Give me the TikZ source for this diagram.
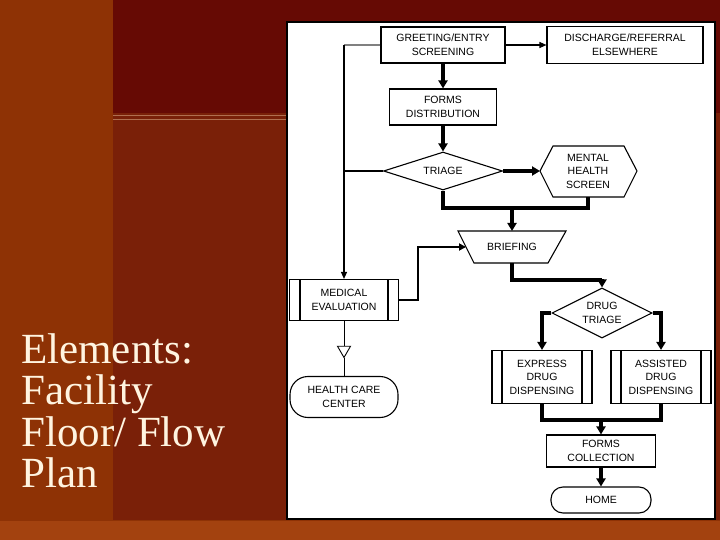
\documentclass[tikz,border=0pt]{standalone}
\usepackage{fontspec}
\setmainfont{Liberation Serif}
\newfontfamily\flowfont{Liberation Sans}
\usetikzlibrary{shapes.geometric,shapes.multipart,arrows.meta}
\definecolor{bgleft}{HTML}{8E3205}
\definecolor{bgmid}{HTML}{7A2008}
\definecolor{bgtop}{HTML}{660A04}
\definecolor{bgbot}{HTML}{A3420F}
\definecolor{cream}{HTML}{FFF4E0}
\begin{document}
\begin{tikzpicture}[x=1pt,y=-1pt,
  box/.style={draw,line width=1.1pt,fill=white,align=center,font=\flowfont\fontsize{10.5}{13.5}\selectfont,inner sep=1pt},
  thick arrow/.style={line width=3.6pt,-{Triangle[length=8pt,width=9pt]}},
  thickline/.style={line width=3.6pt},
  thin arrow/.style={line width=1.1pt,-{Triangle[length=7pt,width=6pt]}},
  midline/.style={line width=2.2pt}]
\useasboundingbox (0,0) rectangle (720,540);
\fill[bgleft] (0,0) rectangle (720,540);
\fill[bgmid] (113,0) rectangle (720,520);
\fill[bgtop] (113,0) rectangle (720,113);
\draw[bgleft!70!white,line width=1pt] (113,116) -- (287,116);
\draw[bgleft!70!white,line width=1pt] (113,120) -- (287,120);
\fill[bgbot] (0,521) rectangle (720,540);
% panel
\draw[fill=white,line width=1.5pt] (287,22) rectangle (715,519);
% left text
\node[anchor=north west,align=left,text=cream,font=\fontsize{43}{41.5}\selectfont,inner sep=0pt] (title) at (21,333) {Elements:\\Facility\\Floor/ Flow\\Plan};
% nodes
\node[box,minimum width=124pt,minimum height=36pt] (greet) at (443,45) {GREETING/ENTRY\\SCREENING};
\node[box,minimum width=156pt,minimum height=37pt] (disc) at (625,45) {DISCHARGE/REFERRAL\\ELSEWHERE};
\node[box,minimum width=107pt,minimum height=36pt] (forms) at (443,107) {FORMS\\DISTRIBUTION};
\node[box,diamond,aspect=3.1,minimum width=119pt,minimum height=38pt,inner sep=0pt] (triage) at (443,171) {TRIAGE};
\coordinate (mhL) at (540,171);
\draw[line width=1.1pt,fill=white] (540,171) -- (553,146) -- (624,146) -- (637,171) -- (624,197) -- (553,197) -- cycle;
\node[box,draw=none,fill=none] (mh) at (588,171) {MENTAL\\HEALTH\\SCREEN};
\draw[line width=1.1pt,fill=white] (458,231) -- (566,231) -- (548,263) -- (474,263) -- cycle;
\node[box,draw=none,fill=none] (brief) at (512,247) {BRIEFING};
\coordinate (briefL) at (466,247);
\coordinate (briefT) at (512,231);
\coordinate (briefB) at (512,263);
\node[box,minimum width=109pt,minimum height=41pt] (med) at (344,300) {MEDICAL\\EVALUATION};
\draw[line width=1.1pt] (300,279) -- (300,320) (388,279) -- (388,320);
\node[box,diamond,aspect=2,minimum width=100pt,minimum height=50pt,inner sep=0pt] (dtri) at (602,313) {DRUG\\TRIAGE};
\node[box,minimum width=100pt,minimum height=53pt] (exp) at (542,377) {EXPRESS\\DRUG\\DISPENSING};
\draw[line width=1.1pt] (502,350) -- (502,403) (582,350) -- (582,403);
\node[box,minimum width=100pt,minimum height=53pt] (ass) at (661,377) {ASSISTED\\DRUG\\DISPENSING};
\draw[line width=1.1pt] (621,350) -- (621,403) (701,350) -- (701,403);
\node[box,minimum width=109pt,minimum height=32pt] (fcol) at (601,451) {FORMS\\COLLECTION};
\node[box,rounded corners=12pt,minimum width=100pt,minimum height=26pt] (home) at (601,500) {HOME};
\node[box,rounded corners=18pt,minimum width=108pt,minimum height=41pt] (hcc) at (344,397) {HEALTH CARE\\CENTER};
\node[draw,line width=0.9pt,isosceles triangle,shape border rotate=-90,isosceles triangle apex angle=60,minimum width=13pt,minimum height=11pt,inner sep=0pt,fill=white] (tri) at (344,350) {};
% connectors
\coordinate (gL) at (344,45);
\draw[line width=1.3pt,gray] (greet.west) -- (gL);
\draw[thin arrow] (gL) -- (med.north);
\draw[line width=1.1pt] (triage.west) -- (344,171);
\draw[thin arrow] (greet.east) -- (disc.west);
\draw[thick arrow] (greet.south) -- (forms.north);
\draw[thick arrow] (forms.south) -- (triage.north);
\draw[thick arrow] (triage.east) -- (mhL);
\draw[thickline] (triage.south) |- (588,208) -- (588,197);
\draw[thick arrow] (512,208) -- (briefT);
\draw[midline,-{Triangle[length=7pt,width=7pt]}] (med.east) -| (418,247) -- (briefL);
\draw[thickline] (briefB) |- (602,280);
\draw[thick arrow] (602,279) -- (dtri.north);
\draw[thick arrow] (dtri.west) -| (exp.north);
\draw[thick arrow] (dtri.east) -| (ass.north);
\draw[thickline] (exp.south) |- (661,420) -- (ass.south);
\draw[thick arrow] (601,419) -- (fcol.north);
\draw[thick arrow] (fcol.south) -- (home.north);
\draw[line width=0.9pt] (med.south) -- (tri.north) (tri.south) -- (hcc.north);
\end{tikzpicture}
\end{document}
